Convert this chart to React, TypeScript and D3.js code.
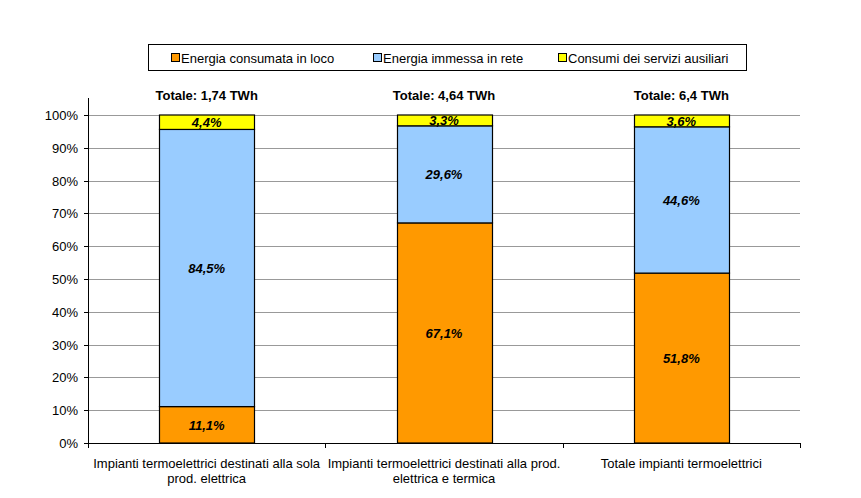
import React from "react";
import * as d3 from "d3";

const categories = [
  ["Impianti termoelettrici destinati alla sola", "prod. elettrica"],
  ["Impianti termoelettrici destinati alla prod.", "elettrica e termica"],
  ["Totale impianti termoelettrici"],
];
const totals = ["Totale: 1,74 TWh", "Totale: 4,64 TWh", "Totale: 6,4 TWh"];
const seriesNames = ["Energia consumata in loco", "Energia immessa in rete", "Consumi dei servizi ausiliari"];
const seriesColors = ["#FF9900", "#99CCFF", "#FFFF00"];
const consumata = [11.1, 67.1, 51.8];
const immessa = [84.5, 29.6, 44.6];
const ausiliari = [4.4, 3.3, 3.6];
const yTicks = [0, 10, 20, 30, 40, 50, 60, 70, 80, 90, 100];

const W = 861, H = 498;
const left = 88, right = 800, top = 98, bottom = 443;

export default function App() {
  const series = [consumata, immessa, ausiliari];
  const x = d3.scaleBand<number>().domain([0, 1, 2]).range([left, right]).paddingInner(0).paddingOuter(0);
  const y = d3.scaleLinear().domain([0, 100]).range([bottom, 115]);
  const bw = 95;
  const font = "'Liberation Sans', Arial, sans-serif";
  const fs = 13;
  const stacks = categories.map((_, i) => {
    let acc = 0;
    return series.map((s, k) => {
      const y0 = acc;
      acc += s[i];
      return { k, y0, y1: acc, v: s[i] };
    });
  });
  const legendItems = [
    { x: 171, label: seriesNames[0] },
    { x: 373, label: seriesNames[1] },
    { x: 558, label: seriesNames[2] },
  ];
  return (
    <svg width={W} height={H} style={{ position: "absolute", left: 0, top: 0, background: "#fff" }} fontFamily={font}>
      <rect x={0} y={0} width={W} height={H} fill="#fff" />
      {/* legend */}
      <rect x={148.5} y={44.5} width={598} height={26} fill="#fff" stroke="#000" strokeWidth={1} />
      {legendItems.map((it, k) => (
        <g key={k}>
          <rect x={it.x + 0.5} y={53.5} width={8} height={8} fill={seriesColors[k]} stroke="#000" strokeWidth={1} />
          <text x={it.x + 10} y={62.5} fontSize={fs} fill="#000">{it.label}</text>
        </g>
      ))}
      {/* gridlines */}
      {yTicks.map((t) => (
        <line key={t} x1={left} x2={right} y1={Math.round(y(t)) + 0.5} y2={Math.round(y(t)) + 0.5} stroke="#999" strokeWidth={1} />
      ))}
      {/* y axis */}
      <line x1={left + 0.5} x2={left + 0.5} y1={top} y2={bottom + 0.5} stroke="#000" />
      {yTicks.map((t) => (
        <g key={"yt" + t}>
          <line x1={left - 4} x2={left} y1={Math.round(y(t)) + 0.5} y2={Math.round(y(t)) + 0.5} stroke="#000" />
          <text x={left - 10} y={y(t) + 5} fontSize={fs} textAnchor="end" fill="#000">{t + "%"}</text>
        </g>
      ))}
      {/* x axis */}
      <line x1={left} x2={right} y1={bottom + 0.5} y2={bottom + 0.5} stroke="#000" />
      {[0, 1, 2, 3].map((i) => {
        const xx = Math.round(left + (i * (right - left)) / 3) + 0.5;
        return <line key={"xt" + i} x1={xx} x2={xx} y1={bottom} y2={bottom + 5} stroke="#000" />;
      })}
      {/* bars */}
      {stacks.map((st, i) => {
        const cx = (x(i) as number) + x.bandwidth() / 2;
        const x0 = Math.round(cx - bw / 2) + 0.5;
        return (
          <g key={"b" + i}>
            {st.map((s) => (
              <rect key={s.k} x={x0} y={y(s.y1)} width={bw} height={y(s.y0) - y(s.y1)} fill={seriesColors[s.k]} stroke="#000" strokeWidth={1.2} />
            ))}
            {st.map((s) => (
              <text key={"l" + s.k} x={cx} y={(y(s.y0) + y(s.y1)) / 2 + 5} fontSize={fs} fontWeight="bold" fontStyle="italic" textAnchor="middle" fill="#000">
                {s.v.toFixed(1).replace(".", ",") + "%"}
              </text>
            ))}
            <text x={cx} y={100} fontSize={fs} fontWeight="bold" textAnchor="middle" fill="#000">{totals[i]}</text>
            {categories[i].map((line, j) => (
              <text key={"c" + j} x={cx} y={468 + j * 15} fontSize={fs} textAnchor="middle" fill="#000">{line}</text>
            ))}
          </g>
        );
      })}
    </svg>
  );
}
